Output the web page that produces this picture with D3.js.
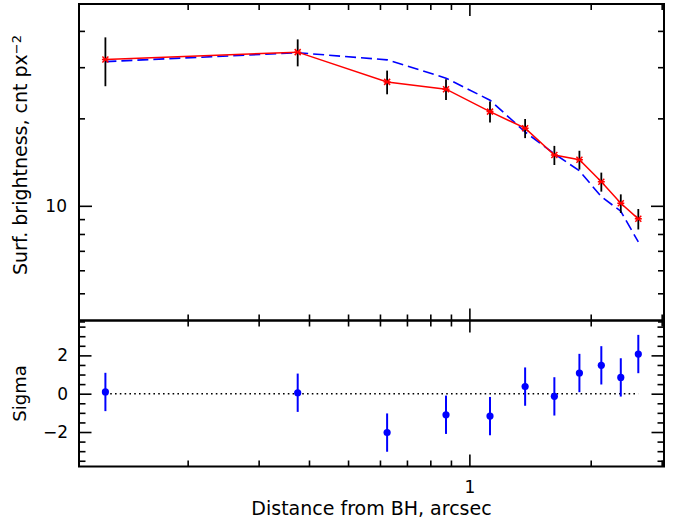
<!DOCTYPE html>
<html>
<head>
<meta charset="utf-8">
<script src="https://cdn.jsdelivr.net/npm/d3@7"></script>
<style>
  html, body { margin: 0; padding: 0; background: #fff; }
  svg { display: block; }
  text { font-family: "DejaVu Sans", sans-serif; fill: #000; }
</style>
</head>
<body>
<svg id="chart" width="682" height="520"></svg>
<script>
// ---------------- data ----------------
const radius = [0.125, 0.375, 0.625, 0.875, 1.125, 1.375, 1.625, 1.875, 2.125, 2.375, 2.625];
const surfBrightness = [31.9, 33.8, 26.7, 25.2, 21.1, 18.5, 14.95, 14.4, 12.1, 10.2, 9.02];
const surfError = [6.1, 3.6, 2.5, 2.05, 1.75, 1.4, 1.13, 1.07, 0.91, 0.75, 0.73];
const modelBrightness = [31.35, 33.65, 31.8, 27.5, 23.1, 17.95, 15.1, 13.2, 10.75, 9.58, 7.51];
const sigmaResidual = [0.09, 0.05, -2.03, -1.1, -1.17, 0.37, -0.14, 1.08, 1.48, 0.85, 2.07];

const xMajorTicks = [1];
const xMinorTicks = [0.2, 0.3, 0.4, 0.5, 0.6, 0.7, 0.8, 0.9, 2, 3];
const yMajorTicks = [10];
const yMinorTicks = [4, 5, 6, 7, 8, 9, 20, 30, 40];
const sigmaMajorTicks = [-2, 0, 2];
const sigmaMinorTicks = [-3.5, -3, -2.5, -1.5, -1, -0.5, 0.5, 1, 1.5, 2.5, 3, 3.5];

const xLabel = "Distance from BH, arcsec";
const yLabel = "Surf. brightness, cnt px";
const yLabelSup = "\u22122";
const sigmaLabel = "Sigma";

// ---------------- layout ----------------
const leftX = 79, rightX = 664;
const topY = 4, midY = 320.5, botY = 466.5;

const svg = d3.select("#chart");

const x = d3.scaleLog().domain([0.1075, 3.04]).range([leftX, rightX]);
const y = d3.scaleLog().domain([4.03, 49.5]).range([midY, topY]);
const ys = d3.scaleLinear().domain([-3.8, 3.82]).range([botY, midY]);

const points = radius.map((r, i) => ({
  r, v: surfBrightness[i], e: surfError[i], m: modelBrightness[i], s: sigmaResidual[i]
}));

function styleAxis(g) {
  g.select(".domain").remove();
  g.selectAll(".tick line").attr("stroke", "#000").attr("stroke-width", 1.6);
  g.selectAll(".tick text").style("font-family", "DejaVu Sans, sans-serif").style("font-size", "17px").attr("fill", "#000");
}

function addAxis(axisFn, scale, values, size, transform, fmt, pad) {
  const a = axisFn(scale).tickValues(values).tickSizeInner(size).tickSizeOuter(0)
    .tickFormat(fmt || (() => "")).tickPadding(pad || 3);
  const g = svg.append("g").attr("transform", transform).call(a);
  styleAxis(g);
  return g;
}

// ---- top panel axes (ticks inward) ----
addAxis(d3.axisBottom, x, xMinorTicks, 6, `translate(0,${topY})`);
addAxis(d3.axisBottom, x, xMajorTicks, 12, `translate(0,${topY})`);
addAxis(d3.axisTop, x, xMinorTicks, 6, `translate(0,${midY})`);
addAxis(d3.axisTop, x, xMajorTicks, 12, `translate(0,${midY})`);
addAxis(d3.axisLeft, y, yMinorTicks, -6, `translate(${leftX},0)`);
addAxis(d3.axisLeft, y, yMajorTicks, -13, `translate(${leftX},0)`, d3.format("d"), 12);
addAxis(d3.axisRight, y, yMinorTicks, -6, `translate(${rightX},0)`);
addAxis(d3.axisRight, y, yMajorTicks, -13, `translate(${rightX},0)`);

// ---- bottom panel axes ----
addAxis(d3.axisBottom, x, xMinorTicks, 6, `translate(0,${midY})`);
addAxis(d3.axisBottom, x, xMajorTicks, 12, `translate(0,${midY})`);
addAxis(d3.axisTop, x, xMinorTicks, 6, `translate(0,${botY})`);
addAxis(d3.axisBottom, x, xMajorTicks, -12, `translate(0,${botY})`, d3.format("d"), 14);
addAxis(d3.axisLeft, ys, sigmaMinorTicks, -6.5, `translate(${leftX},0)`);
addAxis(d3.axisLeft, ys, sigmaMajorTicks, -12.5, `translate(${leftX},0)`, d => d < 0 ? "\u2212" + Math.abs(d) : String(d), 11);
addAxis(d3.axisRight, ys, sigmaMinorTicks, -6.5, `translate(${rightX},0)`);
addAxis(d3.axisRight, ys, sigmaMajorTicks, -12.5, `translate(${rightX},0)`);

// ---- frames ----
svg.append("rect").attr("x", leftX).attr("y", topY).attr("width", rightX - leftX).attr("height", midY - topY)
  .attr("fill", "none").attr("stroke", "#000").attr("stroke-width", 2);
svg.append("rect").attr("x", leftX).attr("y", midY).attr("width", rightX - leftX).attr("height", botY - midY)
  .attr("fill", "none").attr("stroke", "#000").attr("stroke-width", 2);

// ---- top panel data ----
const gTop = svg.append("g");
// model (blue dashed)
gTop.append("path").datum(points)
  .attr("d", d3.line().x(d => x(d.r)).y(d => y(d.m)))
  .attr("fill", "none").attr("stroke", "#0000ff").attr("stroke-width", 1.6)
  .attr("stroke-dasharray", "11,5");
// error bars
gTop.selectAll("line.err").data(points).join("line").attr("class", "err")
  .attr("x1", d => x(d.r)).attr("x2", d => x(d.r))
  .attr("y1", d => y(d.v - d.e)).attr("y2", d => y(d.v + d.e))
  .attr("stroke", "#000").attr("stroke-width", 1.8);
// data line (red)
gTop.append("path").datum(points)
  .attr("d", d3.line().x(d => x(d.r)).y(d => y(d.v)))
  .attr("fill", "none").attr("stroke", "#ff0000").attr("stroke-width", 1.5);
// markers (star)
const star = gTop.selectAll("g.mk").data(points).join("g").attr("class", "mk")
  .attr("transform", d => `translate(${x(d.r)},${y(d.v)})`);
star.append("path").attr("d", "M-3,-3L3,3M-3,3L3,-3M-3.5,0L3.5,0")
  .attr("stroke", "#ff0000").attr("stroke-width", 1.5).attr("fill", "none");

// ---- bottom panel data ----
const gBot = svg.append("g");
gBot.append("line")
  .attr("x1", x(d3.min(radius))).attr("x2", x(d3.max(radius)))
  .attr("y1", ys(0)).attr("y2", ys(0))
  .attr("stroke", "#000").attr("stroke-width", 1.6).attr("stroke-dasharray", "1.6,3.2");
gBot.selectAll("line.serr").data(points).join("line").attr("class", "serr")
  .attr("x1", d => x(d.r)).attr("x2", d => x(d.r))
  .attr("y1", d => ys(d.s - 1)).attr("y2", d => ys(d.s + 1))
  .attr("stroke", "#0000ff").attr("stroke-width", 2);
gBot.selectAll("circle").data(points).join("circle")
  .attr("cx", d => x(d.r)).attr("cy", d => ys(d.s)).attr("r", 3.6)
  .attr("fill", "#0000ff");

// ---- axis titles ----
svg.append("text").attr("x", (leftX + rightX) / 2).attr("y", 515)
  .attr("text-anchor", "middle").style("font-size", "19px").text(xLabel);

const yl = svg.append("text")
  .attr("transform", `translate(27,${155}) rotate(-90)`)
  .attr("text-anchor", "middle").style("font-size", "19px");
yl.append("tspan").text(yLabel);
yl.append("tspan").attr("dy", "-0.45em").style("font-size", "13px").text(yLabelSup);

svg.append("text")
  .attr("transform", `translate(26,${(midY + botY) / 2}) rotate(-90)`)
  .attr("text-anchor", "middle").style("font-size", "18px").text(sigmaLabel);
</script>
</body>
</html>
